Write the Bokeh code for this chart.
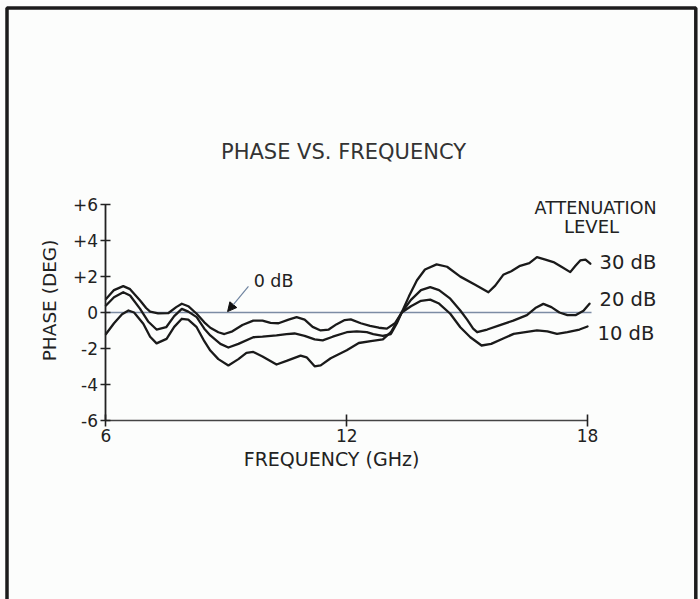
from bokeh.plotting import figure
from bokeh.models import Range1d, FixedTicker, Arrow, NormalHead, BoxAnnotation
from bokeh.core.properties import value
from bokeh.embed import file_html
from bokeh.resources import INLINE

# ---- data ----
freq_10 = [6.0, 6.2, 6.43, 6.6, 6.85, 7.0, 7.1, 7.3, 7.55, 7.75, 7.89, 8.05, 8.26, 8.45, 8.6,
           8.8, 8.95, 9.15, 9.4, 9.67, 9.9, 10.1, 10.3, 10.55, 10.75, 10.95, 11.15, 11.35, 11.55,
           11.75, 11.95, 12.1, 12.35, 12.58, 12.8, 13.0, 13.2, 13.37, 13.6, 13.85, 14.08, 14.3,
           14.58, 14.83, 15.08, 15.36, 15.6, 15.9, 16.16, 16.45, 16.74, 17.0, 17.24, 17.5, 17.8, 18.0]
phase_10 = [0.75, 1.25, 1.47, 1.3, 0.67, 0.25, 0.05, -0.05, -0.04, 0.3, 0.49, 0.35, -0.07, -0.55,
            -0.85, -1.1, -1.2, -1.05, -0.7, -0.45, -0.45, -0.58, -0.6, -0.4, -0.26, -0.4, -0.8,
            -1.0, -0.95, -0.65, -0.42, -0.38, -0.6, -0.75, -0.85, -0.9, -0.6, 0.0, 0.35, 0.65,
            0.72, 0.5, -0.07, -0.82, -1.38, -1.84, -1.75, -1.45, -1.19, -1.1, -1.0, -1.05, -1.19,
            -1.1, -0.95, -0.78]

freq_20 = [6.0, 6.2, 6.43, 6.6, 6.85, 7.05, 7.26, 7.5, 7.7, 7.89, 8.05, 8.26, 8.45, 8.6, 8.85,
           9.05, 9.3, 9.67, 9.9, 10.25, 10.5, 10.7, 10.95, 11.2, 11.4, 11.65, 12.0, 12.25, 12.5,
           12.66, 12.9, 13.1, 13.25, 13.37, 13.6, 13.85, 14.08, 14.3, 14.58, 14.83, 15.0, 15.15,
           15.25, 15.5, 15.82, 16.15, 16.49, 16.7, 16.9, 17.1, 17.3, 17.5, 17.7, 17.9, 18.05]
phase_20 = [0.39, 0.85, 1.13, 0.95, 0.2, -0.5, -0.95, -0.82, -0.2, 0.2, 0.05, -0.26, -0.9, -1.28,
            -1.75, -1.95, -1.75, -1.38, -1.35, -1.28, -1.2, -1.17, -1.3, -1.5, -1.55, -1.35, -1.1,
            -1.05, -1.1, -1.2, -1.3, -1.2, -0.6, 0.0, 0.7, 1.25, 1.41, 1.25, 0.77, 0.11, -0.4,
            -0.9, -1.1, -0.95, -0.7, -0.45, -0.15, 0.25, 0.48, 0.3, 0.0, -0.15, -0.15, 0.1, 0.49]

freq_30 = [6.0, 6.2, 6.4, 6.56, 6.7, 6.93, 7.1, 7.26, 7.51, 7.7, 7.89, 8.05, 8.26, 8.45, 8.6, 8.8,
           9.05, 9.3, 9.5, 9.67, 9.9, 10.25, 10.5, 10.85, 11.0, 11.2, 11.35, 11.6, 12.0, 12.3,
           12.6, 12.9, 13.1, 13.25, 13.37, 13.55, 13.75, 13.95, 14.24, 14.5, 14.83, 15.2, 15.53,
           15.7, 15.9, 16.1, 16.32, 16.55, 16.74, 16.95, 17.15, 17.35, 17.57, 17.7, 17.82, 17.95, 18.07]
phase_30 = [-1.2, -0.6, -0.1, 0.11, 0.0, -0.63, -1.35, -1.72, -1.47, -0.8, -0.35, -0.4, -0.82,
            -1.6, -2.12, -2.6, -2.95, -2.6, -2.25, -2.2, -2.45, -2.9, -2.7, -2.4, -2.5, -3.0,
            -2.95, -2.55, -2.1, -1.7, -1.6, -1.5, -1.1, -0.5, 0.0, 0.9, 1.8, 2.4, 2.68, 2.55,
            2.0, 1.55, 1.13, 1.5, 2.1, 2.3, 2.6, 2.75, 3.09, 2.95, 2.81, 2.55, 2.25, 2.6, 2.9,
            2.95, 2.72]

zero_freq = [6.0, 18.1]
zero_phase = [0.0, 0.0]

x_ticks = [6, 12, 18]
x_tick_labels = ["6", "12", "18"]
y_ticks = [-6, -4, -2, 0, 2, 4, 6]
y_tick_labels = ["-6", "-4", "-2", "0", "+2", "+4", "+6"]

series_labels = ["30 dB", "20 dB", "10 dB"]

FONT = "DejaVu Sans"
INK = "#222222"

p = figure(width=700, height=599, output_backend="svg", toolbar_location=None,
           x_range=Range1d(3.371, 20.816), y_range=Range1d(-15.998, 17.391),
           min_border=0, min_border_left=0, min_border_right=0,
           min_border_top=0, min_border_bottom=0)
p.background_fill_color = "#fcfdfc"
p.border_fill_color = "#fcfdfc"
p.outline_line_color = None
p.grid.visible = False

# picture frame (open at the bottom, as in the reference)
p.add_layout(BoxAnnotation(left=3.533, right=20.699, top=16.973, bottom=-30,
                           fill_alpha=0, line_color="#1c1c1c", line_alpha=1.0,
                           line_width=3.5))

# axes at fixed data locations
xa = p.xaxis[0]
xa.fixed_location = -6
xa.bounds = (6, 18)
xa.ticker = FixedTicker(ticks=x_ticks)
xa.major_label_overrides = dict(zip(x_ticks, x_tick_labels))
xa.minor_tick_line_color = None
xa.major_tick_in = 6
xa.major_tick_out = 6
xa.axis_line_color = "#444444"
xa.axis_line_width = 1.6
xa.major_tick_line_color = INK
xa.major_tick_line_width = 1.6
xa.major_label_text_font = FONT
xa.major_label_text_font_size = "17px"
xa.major_label_text_color = INK
xa.major_label_standoff = 3

ya = p.yaxis[0]
ya.fixed_location = 6
ya.bounds = (-6, 6)
ya.ticker = FixedTicker(ticks=y_ticks)
ya.major_label_overrides = dict(zip(y_ticks, y_tick_labels))
ya.minor_tick_line_color = None
ya.major_tick_in = 5
ya.major_tick_out = 5
ya.axis_line_color = INK
ya.axis_line_width = 1.8
ya.major_tick_line_color = INK
ya.major_tick_line_width = 1.6
ya.major_label_text_font = FONT
ya.major_label_text_font_size = "17px"
ya.major_label_text_color = INK
ya.major_label_standoff = 3

# zero (0 dB) reference line
p.line(zero_freq, zero_phase, line_color="#7c8ca4", line_width=1.3)

# curves
for fx, py in [(freq_10, phase_10), (freq_20, phase_20), (freq_30, phase_30)]:
    p.line(fx, py, line_color="#1a1a1a", line_width=2.3, line_join="round", line_cap="round")

# arrow to 0 dB line
p.add_layout(Arrow(x_start=9.55, y_start=1.45, x_end=9.03, y_end=0.05,
                   line_color="#6f84a0", line_width=1.2,
                   end=NormalHead(size=9, fill_color="#111111", line_color="#111111")))

def txt(x, y, s, size, align="center", angle=0.0, color=INK):
    p.text(x=[x], y=[y], text=[s], text_font=value(FONT), text_font_size=size,
           text_color=color, text_align=align, text_baseline="middle", angle=angle)

txt(11.92, 8.95, "PHASE VS. FREQUENCY", "21px", color="#333333")
txt(11.62, -8.17, "FREQUENCY (GHz)", "19px")
txt(4.58, 0.67, "PHASE (DEG)", "18.5px", angle=1.5708)
txt(18.20, 5.80, "ATTENUATION", "17.5px")
txt(18.10, 4.79, "LEVEL", "18px")
txt(9.68, 1.78, "0 dB", "17.5px", align="left")
txt(18.30, 2.76, series_labels[0], "19.5px", align="left")
txt(18.30, 0.72, series_labels[1], "19.5px", align="left")
txt(18.25, -1.17, series_labels[2], "19.5px", align="left")

open("out.html", "w").write(file_html(p, INLINE))
